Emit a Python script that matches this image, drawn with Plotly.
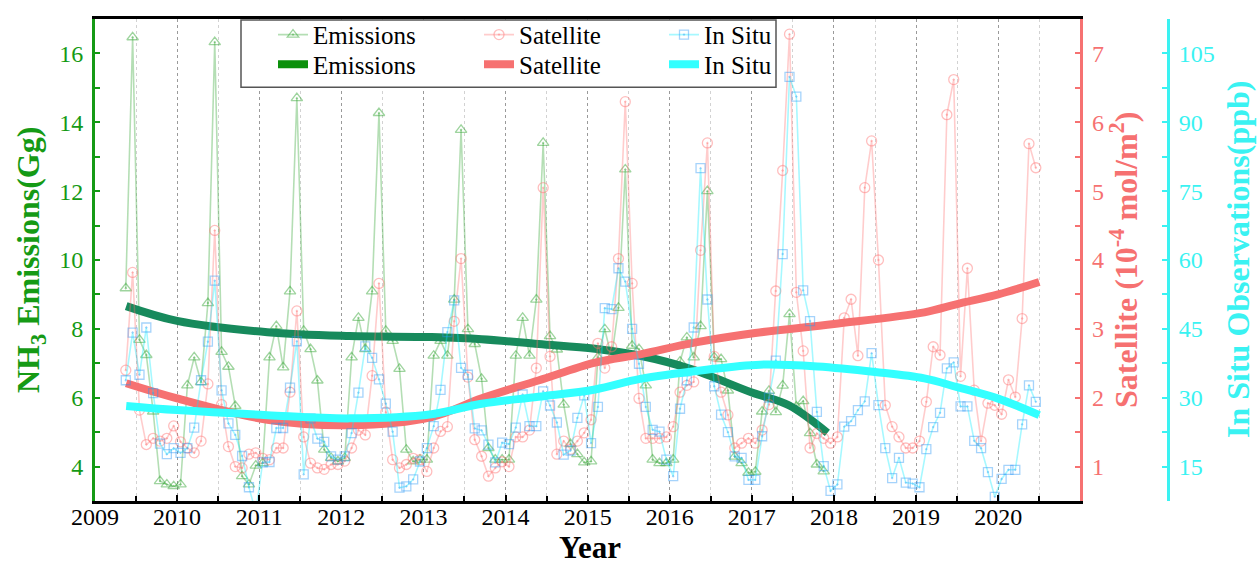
import plotly.graph_objects as go

FONT = "Liberation Serif, Times New Roman, serif"

# ---------------- data (monthly, starting May 2009) ----------------
emis_start = (2009, 5)
emissions = [
    9.18, 16.47, 7.68, 7.24, 5.6, 3.58, 3.48, 3.43,
    3.48, 6.36, 7.17, 6.45, 8.75, 16.33, 7.33, 6.9, 5.76, 3.72, 3.48, 4.03,
    4.1, 7.17, 8.08, 6.88, 9.09, 14.7, 7.94, 7.41, 6.5, 4.49, 4.25, 4.15,
    4.25, 7.17, 8.32, 7.41, 9.09, 14.27, 7.94, 7.65, 6.84, 4.49, 4.15, 4.2,
    4.2, 7.22, 7.65, 7.22, 8.85, 13.78, 7.99, 7.56, 6.55, 4.54, 4.2, 4.2,
    4.2, 7.22, 8.32, 7.22, 8.85, 13.4, 7.79, 7.4, 5.8, 4.65, 4.36, 4.12,
    4.15, 7.17, 7.99, 7.17, 8.61, 12.63, 7.51, 7.41, 6.36, 4.2, 4.1, 4.1,
    4.2, 7.05, 7.75, 7.17, 8.08, 12.0, 7.17, 7.12, 6.21, 4.29, 4.1, 3.82,
    3.85, 5.6, 6.2, 5.58, 6.35, 8.43, 5.74, 5.9, 4.97, 4.06, 3.86,
]

sat_start = (2009, 5)
satellite = [
    2.40, 3.82, 1.82, 1.32, 1.41, 1.37, 1.41, 1.59,
    1.36, 1.27, 1.20, 1.37, 2.2, 4.43, 1.9, 1.29, 1.0, 0.98, 1.18, 1.2,
    1.12, 1.1, 1.27, 1.27, 2.08, 3.26, 1.43, 1.05, 0.98, 0.96, 1.03, 1.03,
    1.08, 1.27, 1.53, 1.46, 2.32, 3.66, 1.79, 1.1, 0.98, 1.03, 1.12, 1.1,
    0.93, 1.27, 1.51, 1.58, 3.11, 4.02, 2.3, 1.39, 1.15, 0.86, 0.98, 1.07,
    1.0, 1.43, 1.43, 1.53, 2.43, 5.05, 2.6, 1.18, 1.37, 1.25, 1.37, 1.49,
    1.68, 2.79, 2.43, 2.74, 4.02, 6.3, 3.66, 1.99, 1.41, 1.41, 1.41, 1.43,
    1.58, 2.08, 2.18, 2.23, 4.14, 5.7, 2.6, 2.08, 1.75, 1.27, 1.34, 1.41,
    1.34, 1.53, 1.9, 3.55, 5.3, 7.28, 3.53, 2.68, 1.27, 1.48, 1.41, 1.34,
    1.43, 3.16, 3.43, 2.61, 5.05, 5.73, 4.0, 1.89, 1.58, 1.43, 1.27, 1.27,
    1.37, 1.94, 2.74, 2.62, 6.11, 6.62, 2.31, 3.88, 2.11, 1.37, 1.92, 1.89,
    1.76, 2.26, 2.01, 3.15, 5.69, 5.34,
]

insitu_start = (2009, 5)
insitu = [
    33.8, 44.2, 35.0, 45.3, 31.0, 20.0, 17.7, 19.0,
    18.0, 19.0, 23.5, 33.8, 42.2, 55.5, 31.6, 24.4, 21.9, 17.3, 10.5, 5.0,
    15.9, 16.0, 23.4, 23.4, 32.2, 42.3, 13.3, 25.5, 21.1, 20.4, 17.2, 16.5,
    17.2, 22.3, 31.1, 41.2, 38.7, 34.0, 28.7, 22.6, 10.4, 10.7, 12.2, 16.1,
    19.0, 23.8, 31.7, 44.3, 51.2, 36.5, 35.0, 23.3, 22.9, 19.8, 15.9, 20.2,
    19.9, 23.5, 30.7, 23.8, 23.8, 31.4, 28.3, 24.6, 17.6, 18.5, 25.6, 30.5,
    20.1, 28.0, 49.5, 49.3, 58.2, 55.3, 45.0, 37.4, 28.0, 23.0, 22.6, 16.5,
    12.9, 27.6, 33.8, 45.3, 80.0, 51.4, 32.5, 26.3, 22.5, 17.2, 16.9, 12.1,
    12.1, 21.6, 30.0, 38.1, 61.3, 99.9, 95.6, 53.4, 46.7, 26.9, 15.1, 9.7,
    11.1, 23.7, 24.9, 27.3, 29.2, 39.7, 28.4, 19.0, 12.5, 16.9, 11.5, 11.3,
    10.5, 18.8, 23.6, 26.7, 36.4, 37.7, 28.1, 28.1, 20.6, 19.0, 13.8, 8.4,
    12.3, 14.3, 14.3, 24.2, 32.7, 29.1,
]

# smoothed trend curves (anchor points)
emis_fit_year = [2009.38, 2010.0, 2011.1, 2012.1, 2013.1, 2013.71, 2014.4, 2015.09,
                 2015.64, 2016.25, 2017.0, 2017.45, 2017.92]
emis_fit = [8.66, 8.23, 7.9, 7.79, 7.76, 7.7, 7.56, 7.42, 7.22, 6.84, 6.15, 5.78, 4.98]

sat_fit_year = [2009.38, 2010.0, 2011.1, 2012.1, 2013.1, 2013.71, 2014.4, 2015.09,
                2015.64, 2016.3, 2017.04, 2018.0, 2019.1, 2019.5, 2020.0, 2020.5]
sat_fit = [2.21, 1.99, 1.68, 1.60, 1.72, 1.99, 2.25, 2.51, 2.63, 2.8, 2.94, 3.07,
           3.24, 3.36, 3.5, 3.68]

insitu_fit_year = [2009.38, 2010.0, 2011.1, 2012.1, 2013.1, 2013.71, 2014.4, 2015.09,
                   2015.64, 2016.4, 2017.1, 2017.8, 2018.5, 2019.1, 2019.5, 2020.0, 2020.5]
insitu_fit = [28.2, 27.3, 26.2, 25.5, 26.4, 28.7, 30.2, 31.8, 34.1, 36.0, 37.2, 36.8,
              35.6, 34.2, 32.3, 29.8, 26.2]

year_ticks = list(range(2009, 2021))


def month_positions(start, n):
    y0, m0 = start
    out = []
    for i in range(n):
        k = (m0 - 1) + i
        out.append(y0 + k // 12 + ((k % 12) + 0.5) / 12.0)
    return out


x_emis = month_positions(emis_start, len(emissions))
x_sat = month_positions(sat_start, len(satellite))
x_ins = month_positions(insitu_start, len(insitu))

# ---------------- styling ----------------
GREEN = "#159a15"
GREEN_FIT = "#178a5c"
SALMON = "#f67171"
CYAN = "#3af2f2"

W, H = 1257, 566
ML, MR, MT, MB = 95, 20, 14, 65
PW = W - ML - MR
PH = H - MT - MB
X_RIGHT = 1080.3


def px(xp):
    return (xp - ML) / PW


def py(yp):
    return (H - MB - yp) / PH


fig = go.Figure()

fig.add_trace(go.Scatter(
    x=x_emis, y=emissions, name="Emissions", mode="lines+markers",
    line=dict(color="rgba(40,160,40,0.35)", width=1.6),
    marker=dict(symbol="triangle-up-open-dot", size=10,
                color="rgba(40,160,40,0.45)", line=dict(width=1.3)),
    legend="legend", legendwidth=161, yaxis="y", cliponaxis=True))

fig.add_trace(go.Scatter(
    x=x_sat, y=satellite, name="Satellite", mode="lines+markers",
    line=dict(color="rgba(255,110,110,0.35)", width=1.6),
    marker=dict(symbol="circle-open-dot", size=10,
                color="rgba(255,110,110,0.45)", line=dict(width=1.3)),
    legend="legend", legendwidth=140, yaxis="y2", cliponaxis=True))

fig.add_trace(go.Scatter(
    x=x_ins, y=insitu, name="In Situ", mode="lines+markers",
    line=dict(color="rgba(0,235,255,0.35)", width=1.6),
    marker=dict(symbol="square-open-dot", size=9,
                color="rgba(40,150,245,0.42)", line=dict(width=1.3)),
    legend="legend", legendwidth=80, yaxis="y3", cliponaxis=True))

# legend-only entry for the emissions trend (bright green in the legend)
fig.add_trace(go.Scatter(
    x=[None], y=[None], name="Emissions", mode="lines",
    line=dict(color="#0b900b", width=8), legend="legend2", legendwidth=161,
    yaxis="y"))

fig.add_trace(go.Scatter(
    x=sat_fit_year, y=sat_fit, name="Satellite", mode="lines",
    line=dict(color=SALMON, width=8, shape="spline", smoothing=1.0),
    legend="legend2", legendwidth=140, yaxis="y2"))

fig.add_trace(go.Scatter(
    x=insitu_fit_year, y=insitu_fit, name="In Situ", mode="lines",
    line=dict(color="#33ffff", width=8, shape="spline", smoothing=1.0),
    legend="legend2", legendwidth=80, yaxis="y3"))

fig.add_trace(go.Scatter(
    x=emis_fit_year, y=emis_fit, name="Emissions", mode="lines",
    line=dict(color=GREEN_FIT, width=8, shape="spline", smoothing=1.0),
    showlegend=False, yaxis="y"))

legend_common = dict(
    orientation="h", xanchor="left", yanchor="middle",
    font=dict(family=FONT, size=25, color="black"),
    bgcolor="rgba(0,0,0,0)", borderwidth=0, itemwidth=30,
    itemclick=False, itemdoubleclick=False,
)

TICKFONT = 24

fig.update_layout(
    width=W, height=H,
    margin=dict(l=ML, r=MR, t=MT, b=MB),
    plot_bgcolor="white", paper_bgcolor="white",
    font=dict(family=FONT, size=TICKFONT, color="black"),
    showlegend=True,
    legend=dict(x=px(273), y=py(30), **legend_common),
    legend2=dict(x=px(273), y=py(60), **legend_common),
    xaxis=dict(
        domain=[0, px(X_RIGHT)], range=[2009, 2021],
        tickmode="array", tickvals=year_ticks, ticktext=[str(v) for v in year_ticks],
        ticks="inside", ticklen=6, tickwidth=2, tickcolor="black",
        tickfont=dict(family=FONT, size=TICKFONT, color="black"),
        showline=True, linecolor="black", linewidth=3, mirror=True,
        showgrid=True, gridcolor="#9a9a9a", gridwidth=1, griddash="dot",
        zeroline=False, ticklabelstandoff=-8,
        minor=dict(tick0=2009.5, dtick=0.5, ticks="inside", ticklen=5, tickwidth=2,
                   tickcolor="black", showgrid=True, gridcolor="#d2d2d2",
                   gridwidth=1, griddash="dot"),
    ),
    yaxis=dict(
        range=[3, 17], tick0=4, dtick=2,
        ticks="inside", ticklen=5, tickwidth=2, tickcolor=GREEN,
        tickfont=dict(family=FONT, size=TICKFONT, color=GREEN),
        showline=True, linecolor=GREEN, linewidth=3,
        showgrid=False, zeroline=False, ticklabelstandoff=4,
        minor=dict(tick0=3, dtick=1, ticks="inside", ticklen=5, tickwidth=2,
                   tickcolor=GREEN, showgrid=False),
    ),
    yaxis2=dict(
        overlaying="y", side="right", anchor="x",
        range=[0.5, 7.5], tick0=1, dtick=1,
        ticks="inside", ticklen=5, tickwidth=2, tickcolor=SALMON,
        tickfont=dict(family=FONT, size=TICKFONT, color=SALMON),
        showline=True, linecolor=SALMON, linewidth=3,
        showgrid=False, zeroline=False, ticklabelstandoff=4,
        minor=dict(tick0=0.5, dtick=0.5, ticks="inside", ticklen=5, tickwidth=2,
                   tickcolor=SALMON, showgrid=False),
    ),
    yaxis3=dict(
        overlaying="y", side="right", anchor="free", position=px(1168),
        range=[7.5, 112.5], tick0=15, dtick=15,
        ticks="inside", ticklen=5, tickwidth=2, tickcolor=CYAN,
        tickfont=dict(family=FONT, size=TICKFONT, color=CYAN),
        showline=True, linecolor=CYAN, linewidth=3,
        showgrid=False, zeroline=False, ticklabelstandoff=4,
        minor=dict(tick0=7.5, dtick=7.5, ticks="inside", ticklen=5, tickwidth=2,
                   tickcolor=CYAN, showgrid=False),
    ),
    shapes=[dict(type="rect", xref="paper", yref="paper",
                 x0=px(241), x1=px(776), y0=py(83), y1=py(15),
                 line=dict(color="#555555", width=1.5), fillcolor="white",
                 layer="above")],
    annotations=[
        dict(text="<b>NH<sub>3</sub> Emissions(Gg)</b>", xref="paper", yref="paper",
             x=px(30), y=0.5, textangle=-90, showarrow=False,
             xanchor="center", yanchor="middle",
             font=dict(family=FONT, size=32, color=GREEN)),
        dict(text="<b>Satellite (10<sup>-4</sup> mol/m<sup>2</sup>)</b>", xref="paper",
             yref="paper", x=px(1124), y=0.5, textangle=-90, showarrow=False,
             xanchor="center", yanchor="middle",
             font=dict(family=FONT, size=32, color=SALMON)),
        dict(text="<b>In Situ Observations(ppb)</b>", xref="paper", yref="paper",
             x=px(1238), y=0.5, textangle=-90, showarrow=False,
             xanchor="center", yanchor="middle",
             font=dict(family=FONT, size=32, color=CYAN)),
        dict(text="<b>Year</b>", xref="paper", yref="paper",
             x=px(590), y=py(548), showarrow=False,
             xanchor="center", yanchor="middle",
             font=dict(family=FONT, size=31, color="black")),
    ],
)

fig.write_html("out.html",
               config={"displayModeBar": False},
               post_script="document.body.style.margin='0px';document.body.style.padding='0px';")
